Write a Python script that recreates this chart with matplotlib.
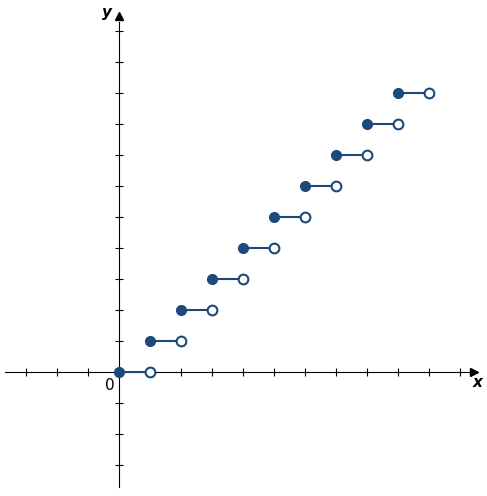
import numpy as np
import matplotlib.pyplot as plt

# floor function steps: y = n on [n, n+1)
step_start = [0, 1, 2, 3, 4, 5, 6, 7, 8, 9]
step_value = [0, 1, 2, 3, 4, 5, 6, 7, 8, 9]
xticks = [-3, -2, -1, 1, 2, 3, 4, 5, 6, 7, 8, 9, 10, 11]
yticks = [-3, -2, -1, 1, 2, 3, 4, 5, 6, 7, 8, 9, 10, 11]

blue = '#1b4a7a'

fig = plt.figure(figsize=(4.87, 4.96), dpi=100)
ax = fig.add_axes([0, 0, 1, 1])
ax.set_xlim(-3.84, 11.87)
ax.set_ylim(-4.0, 12.0)

for sp in ['top', 'right']:
    ax.spines[sp].set_visible(False)
ax.spines['left'].set_position(('data', 0))
ax.spines['bottom'].set_position(('data', 0))
ax.spines['bottom'].set_bounds(-3.68, 11.3)
ax.spines['left'].set_bounds(-3.70, 11.3)
ax.plot(11.45, 0, marker='>', color='black', markersize=6, clip_on=False)
ax.plot(0, 11.5, marker='^', color='black', markersize=6, clip_on=False)

ax.set_xticks(xticks)
ax.set_yticks(yticks)
ax.tick_params(direction='inout', length=6, width=0.8, labelbottom=False, labelleft=False)

for x0, y0 in zip(step_start, step_value):
    ax.plot([x0, x0 + 1], [y0, y0], color=blue, lw=1.5, zorder=3)
    ax.plot(x0, y0, 'o', color=blue, markersize=7, zorder=4)
    ax.plot(x0 + 1, y0, 'o', mfc='white', mec=blue, mew=1.5, markersize=7, zorder=4)

ax.text(-0.15, -0.2, '0', ha='right', va='top', fontsize=11)
ax.text(11.55, -0.35, 'x', ha='center', va='center', fontsize=11, style='italic', weight='bold')
ax.text(-0.4, 11.6, 'y', ha='center', va='center', fontsize=11, style='italic', weight='bold')

fig.savefig('out.png')
